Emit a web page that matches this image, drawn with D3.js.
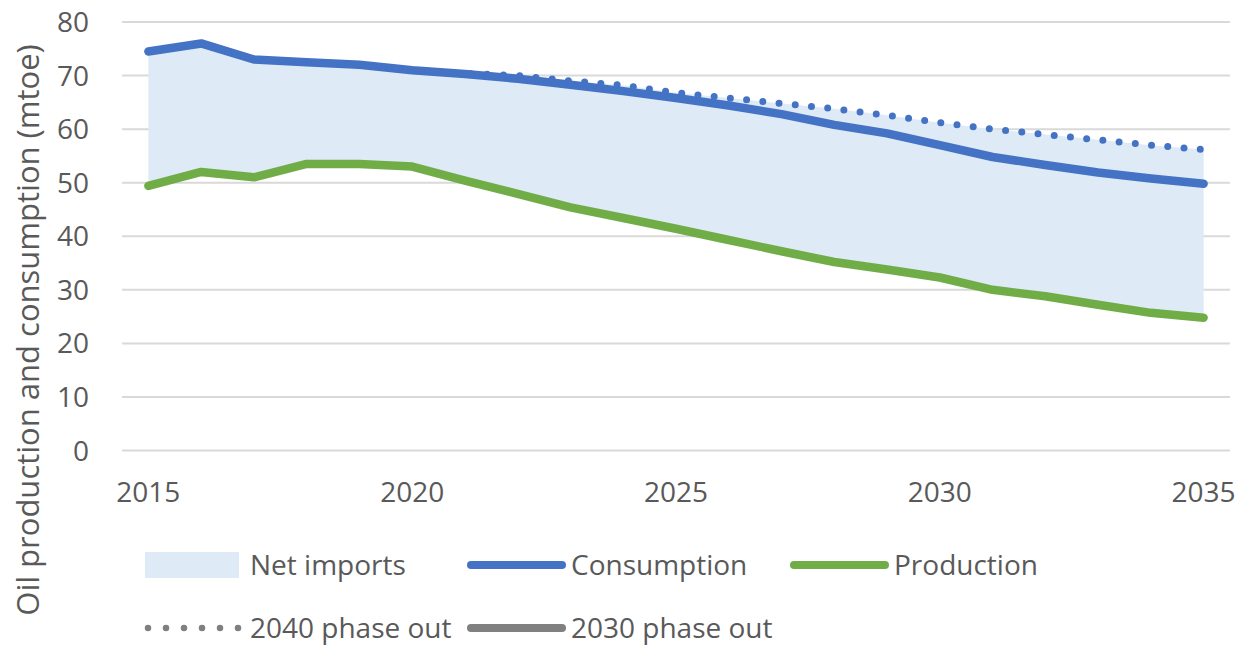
<!DOCTYPE html>
<html>
<head>
<meta charset="utf-8">
<script src="https://cdn.jsdelivr.net/npm/d3@7"></script>
<style>
  body { margin: 0; background: #fff; }
  text { font-family: "Open Sans", sans-serif; fill: #595959; }
</style>
</head>
<body>
<div id="chart"></div>
<script>
const years = [2015, 2016, 2017, 2018, 2019, 2020, 2021, 2022, 2023, 2024, 2025,
               2026, 2027, 2028, 2029, 2030, 2031, 2032, 2033, 2034, 2035];
const consumption = [74.5, 76.0, 73.0, 72.5, 72.0, 71.0, 70.3, 69.4, 68.3, 67.1, 65.8,
                     64.4, 62.8, 60.8, 59.2, 57.0, 54.8, 53.3, 51.9, 50.8, 49.8];
const consumption2040 = [74.5, 76.0, 73.0, 72.5, 72.0, 71.0, 70.4, 70.0, 69.0, 68.2, 66.8,
                         65.8, 64.8, 63.8, 62.6, 61.2, 60.0, 59.0, 58.0, 57.0, 56.2];
const production = [49.4, 52.0, 51.0, 53.5, 53.5, 53.0, 50.4, 47.9, 45.4, 43.4, 41.4,
                    39.3, 37.2, 35.2, 33.8, 32.3, 30.0, 28.8, 27.2, 25.7, 24.8];
const yTicks = [0, 10, 20, 30, 40, 50, 60, 70, 80];
const xTickLabels = [2015, 2020, 2025, 2030, 2035];

const width = 1247, height = 648;
const blue = '#4472C4', green = '#70AD47', gray = '#808080';

const svg = d3.select('#chart')
    .append('svg')
        .attr('width', width)
        .attr('height', height);

const x = d3.scalePoint()
    .domain(years)
    .range([122, 1230])
    .padding(0.5);

const y = d3.scaleLinear()
    .domain([0, 80])
    .range([450.5, 22]);

// gridlines
svg.append('g')
    .selectAll('line')
    .data(yTicks)
    .join('line')
        .attr('x1', 122)
        .attr('x2', 1230)
        .attr('y1', d => y(d))
        .attr('y2', d => y(d))
        .attr('stroke', '#D9D9D9')
        .attr('stroke-width', 2);

// y tick labels
svg.append('g')
    .selectAll('text')
    .data(yTicks)
    .join('text')
        .attr('x', 89)
        .attr('y', d => y(d))
        .attr('dy', '0.36em')
        .attr('text-anchor', 'end')
        .attr('font-size', 28)
        .text(d => d);

// x tick labels
svg.append('g')
    .selectAll('text')
    .data(xTickLabels)
    .join('text')
        .attr('x', d => x(d))
        .attr('y', 502)
        .attr('text-anchor', 'middle')
        .attr('font-size', 28)
        .text(d => d);

// y axis title
svg.append('text')
    .attr('transform', 'translate(39,330) rotate(-90)')
    .attr('text-anchor', 'middle')
    .attr('font-size', 31)
    .text('Oil production and consumption (mtoe)');

// net imports area
const area = d3.area()
    .x((d, i) => x(years[i]))
    .y0((d, i) => y(production[i]))
    .y1(d => y(d));

svg.append('path')
    .datum(consumption2040)
    .attr('d', area)
    .attr('fill', '#DEEAF6');

const line = d3.line()
    .x((d, i) => x(years[i]))
    .y(d => y(d));

svg.append('path')
    .datum(production)
    .attr('d', line)
    .attr('fill', 'none')
    .attr('stroke', green)
    .attr('stroke-width', 8.5)
    .attr('stroke-linecap', 'round')
    .attr('stroke-linejoin', 'round');

svg.append('path')
    .datum(consumption)
    .attr('d', line)
    .attr('fill', 'none')
    .attr('stroke', blue)
    .attr('stroke-width', 8.5)
    .attr('stroke-linecap', 'round')
    .attr('stroke-linejoin', 'round');

svg.append('path')
    .datum(consumption2040)
    .attr('d', line)
    .attr('fill', 'none')
    .attr('stroke', blue)
    .attr('stroke-width', 7)
    .attr('stroke-linecap', 'round')
    .attr('stroke-dasharray', '0,16.3');

// legend
const legendItems = [
    { label: 'Net imports', type: 'rect', color: '#DEEAF6', lx: 145, ly: 565 },
    { label: 'Consumption', type: 'line', color: blue, lx: 467, ly: 565 },
    { label: 'Production', type: 'line', color: green, lx: 790, ly: 565 },
    { label: '2040 phase out', type: 'dots', color: gray, lx: 145, ly: 628 },
    { label: '2030 phase out', type: 'line', color: gray, lx: 467, ly: 628 }
];

const legend = svg.append('g')
    .selectAll('g')
    .data(legendItems)
    .join('g')
        .attr('transform', d => `translate(${d.lx},${d.ly})`);

legend.filter(d => d.type === 'rect')
    .append('rect')
        .attr('x', 0)
        .attr('y', -13)
        .attr('width', 94)
        .attr('height', 26)
        .attr('fill', d => d.color);

legend.filter(d => d.type === 'line')
    .append('line')
        .attr('x1', 4)
        .attr('x2', 95)
        .attr('stroke', d => d.color)
        .attr('stroke-width', 8)
        .attr('stroke-linecap', 'round');

legend.filter(d => d.type === 'dots')
    .append('line')
        .attr('x1', 3)
        .attr('x2', 95)
        .attr('stroke', d => d.color)
        .attr('stroke-width', 6.5)
        .attr('stroke-linecap', 'round')
        .attr('stroke-dasharray', '0,18');

legend.append('text')
    .attr('x', d => d.type === 'rect' || d.type === 'dots' ? 105 : 104)
    .attr('dy', '0.36em')
    .attr('font-size', 28)
    .text(d => d.label);
</script>
</body>
</html>
